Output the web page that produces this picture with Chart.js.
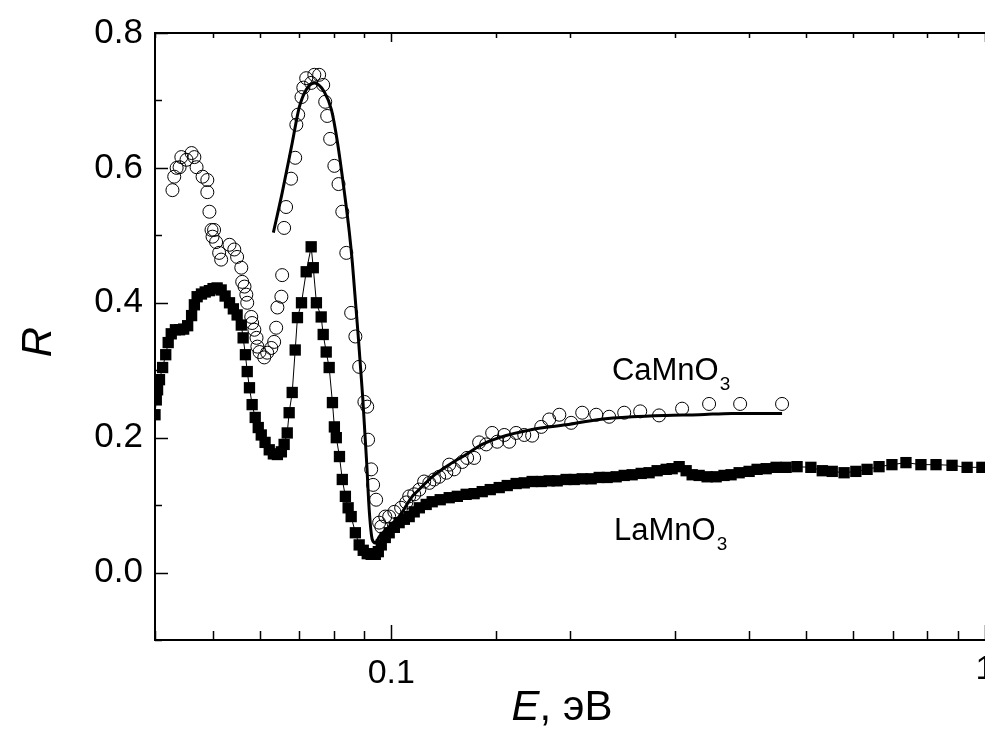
<!DOCTYPE html>
<html>
<head>
<meta charset="utf-8">
<script src="https://cdn.jsdelivr.net/npm/chart.js@4.4.0/dist/chart.umd.min.js"></script>
<style>
    html, body { margin: 0; padding: 0; background: #fff; overflow: hidden; }
</style>
</head>
<body>
<canvas id="myChart" width="985" height="733"></canvas>
<script>
// LaMnO3 reflectance (filled squares)
const laE = [0.0400, 0.0402, 0.0404, 0.0407, 0.0412, 0.0417, 0.0421, 0.0426, 0.0433, 0.0440,
    0.0447, 0.0454, 0.0461, 0.0466, 0.0471, 0.0479, 0.0486, 0.0494, 0.0501, 0.0509,
    0.0517, 0.0525, 0.0534, 0.0542, 0.0550, 0.0559, 0.0563, 0.0568, 0.0572, 0.0577,
    0.0583, 0.0590, 0.0597, 0.0604, 0.0613, 0.0623, 0.0633, 0.0643, 0.0653, 0.0660,
    0.0668, 0.0673, 0.0681, 0.0689, 0.0695, 0.0706, 0.0719, 0.0733, 0.0739, 0.0748,
    0.0762, 0.0768, 0.0777, 0.0786, 0.0796, 0.0802, 0.0808, 0.0818, 0.0827, 0.0837,
    0.0846, 0.0856, 0.0870, 0.0883, 0.0897, 0.0911, 0.0925, 0.0940, 0.0951, 0.0962,
    0.0977, 0.0992, 0.1012, 0.1031, 0.1052, 0.1072, 0.1093, 0.1115, 0.1145, 0.1172,
    0.1209, 0.1252, 0.1292, 0.1337, 0.1379, 0.1423, 0.1468, 0.1520, 0.1568, 0.1623,
    0.1675, 0.1727, 0.1789, 0.1845, 0.1903, 0.1970, 0.2033, 0.2097, 0.2171, 0.2240,
    0.2310, 0.2392, 0.2468, 0.2545, 0.2636, 0.2718, 0.2804, 0.2904, 0.2972, 0.3054,
    0.3138, 0.3212, 0.3300, 0.3404, 0.3525, 0.3635, 0.3735, 0.3854, 0.4006, 0.4132,
    0.4280, 0.4448, 0.4624, 0.4825, 0.509, 0.532, 0.553, 0.579, 0.606, 0.633,
    0.663, 0.697, 0.736, 0.780, 0.827, 0.880, 0.933, 0.988];
const laR = [0.234, 0.256, 0.271, 0.286, 0.304, 0.323, 0.341, 0.354, 0.360, 0.360,
    0.361, 0.366, 0.381, 0.397, 0.409, 0.413, 0.416, 0.418, 0.421, 0.422,
    0.419, 0.410, 0.400, 0.391, 0.382, 0.367, 0.348, 0.323, 0.298, 0.274,
    0.249, 0.230, 0.215, 0.204, 0.193, 0.182, 0.176, 0.175, 0.179, 0.190,
    0.207, 0.237, 0.267, 0.330, 0.378, 0.400, 0.446, 0.483, 0.452, 0.400,
    0.379, 0.353, 0.327, 0.304, 0.252, 0.216, 0.200, 0.172, 0.138, 0.113,
    0.096, 0.083, 0.059, 0.041, 0.033, 0.028, 0.027, 0.027, 0.031, 0.041,
    0.052, 0.059, 0.067, 0.074, 0.079, 0.083, 0.090, 0.096, 0.101, 0.105,
    0.108, 0.111, 0.113, 0.116, 0.117, 0.120, 0.123, 0.126, 0.129, 0.132,
    0.133, 0.135, 0.135, 0.136, 0.136, 0.138, 0.138, 0.139, 0.139, 0.141,
    0.141, 0.142, 0.144, 0.145, 0.147, 0.148, 0.151, 0.153, 0.154, 0.157,
    0.151, 0.145, 0.144, 0.142, 0.142, 0.144, 0.145, 0.148, 0.150, 0.153,
    0.154, 0.156, 0.156, 0.157, 0.156, 0.151, 0.150, 0.148, 0.150, 0.153,
    0.157, 0.160, 0.163, 0.160, 0.160, 0.159, 0.156, 0.156];

// CaMnO3 reflectance (open circles)
const caE = [0.0428, 0.0431, 0.0435, 0.0440, 0.0443, 0.0452, 0.0461, 0.0466, 0.0470, 0.0481,
    0.0490, 0.0490, 0.0494, 0.0498, 0.0503, 0.0500, 0.0507, 0.0513, 0.0517, 0.0534,
    0.0544, 0.0550, 0.0559, 0.0561, 0.0566, 0.0570, 0.0572, 0.0581, 0.0583, 0.0588,
    0.0593, 0.0595, 0.0600, 0.0611, 0.0618, 0.0628, 0.0635, 0.0640, 0.0643, 0.0653,
    0.0655, 0.0660, 0.0665, 0.0678, 0.0689, 0.0692, 0.0697, 0.0706, 0.0711, 0.0719,
    0.0733, 0.0742, 0.0756, 0.0768, 0.0774, 0.0780, 0.0789, 0.0802, 0.0815, 0.0827,
    0.0840, 0.0856, 0.0870, 0.0883, 0.0901, 0.0911, 0.0914, 0.0925, 0.0932, 0.0943,
    0.0954, 0.0962, 0.0977, 0.0992, 0.1012, 0.1039, 0.1060, 0.1072, 0.1093, 0.1115,
    0.1136, 0.1159, 0.1181, 0.1204, 0.1238, 0.1252, 0.1276, 0.1317, 0.1342, 0.1379,
    0.1406, 0.1445, 0.1479, 0.1508, 0.1550, 0.1580, 0.1623, 0.1675, 0.1727, 0.1789,
    0.1845, 0.1919, 0.2009, 0.2097, 0.2214, 0.2328, 0.2468, 0.2626, 0.2825, 0.3089,
    0.3430, 0.3869, 0.4552];
const caR = [0.567, 0.587, 0.600, 0.601, 0.616, 0.612, 0.622, 0.616, 0.601, 0.587,
    0.582, 0.564, 0.535, 0.508, 0.508, 0.498, 0.490, 0.474, 0.464, 0.486,
    0.479, 0.468, 0.452, 0.431, 0.424, 0.412, 0.400, 0.379, 0.370, 0.360,
    0.348, 0.335, 0.327, 0.319, 0.326, 0.333, 0.342, 0.363, 0.393, 0.409,
    0.441, 0.511, 0.542, 0.584, 0.615, 0.664, 0.679, 0.705, 0.719, 0.733,
    0.726, 0.738, 0.738, 0.723, 0.698, 0.677, 0.643, 0.603, 0.576, 0.535,
    0.474, 0.385, 0.350, 0.305, 0.253, 0.246, 0.197, 0.153, 0.130, 0.108,
    0.074, 0.068, 0.083, 0.083, 0.090, 0.096, 0.104, 0.113, 0.116, 0.123,
    0.135, 0.133, 0.138, 0.142, 0.148, 0.160, 0.153, 0.164, 0.170, 0.170,
    0.193, 0.190, 0.207, 0.194, 0.204, 0.194, 0.207, 0.204, 0.203, 0.216,
    0.227, 0.234, 0.222, 0.237, 0.234, 0.231, 0.237, 0.239, 0.233, 0.243,
    0.250, 0.250, 0.250];

// CaMnO3 model fit (solid line)
const fitE = [0.0633, 0.0655, 0.0681, 0.0700, 0.0719, 0.0742, 0.0771, 0.0793, 0.0812, 0.0834,
    0.0850, 0.0860, 0.0878, 0.0895, 0.0909, 0.0918, 0.0929, 0.0940, 0.0954, 0.0992,
    0.1031, 0.1085, 0.1102, 0.1172, 0.1252, 0.1337, 0.1423, 0.1520, 0.1727, 0.1970,
    0.2240, 0.2545, 0.2904, 0.3300, 0.3750, 0.4552];
const fitR = [0.504, 0.563, 0.637, 0.690, 0.716, 0.726, 0.713, 0.686, 0.637, 0.563,
    0.504, 0.459, 0.360, 0.261, 0.163, 0.093, 0.049, 0.044, 0.053, 0.068,
    0.083, 0.113, 0.119, 0.142, 0.160, 0.175, 0.190, 0.200, 0.212, 0.219,
    0.227, 0.231, 0.233, 0.234, 0.236, 0.236];

// Axis settings
const xMin = 0.04, xMax = 1;
const yMin = -0.1, yMax = 0.8, yStep = 0.1;
const xLabelValues = [0.1, 1];

// Text labels placed in data coordinates
const seriesLabels = [
    { name: 'CaMnO', sub: '3', e: 0.2353, r: 0.286 },
    { name: 'LaMnO', sub: '3', e: 0.2372, r: 0.049 }
];

const FONT = '"Liberation Sans", Arial, Helvetica, sans-serif';
const TICK_FONT = 34;
const TICK_PAD = 13;

function toPoints(xs, ys) {
    return xs.map((x, i) => ({ x: x, y: ys[i] }));
}

function isDecade(v) {
    return Math.abs(Math.log10(v) - Math.round(Math.log10(v))) < 1e-6;
}

// Inward ticks, top frame line, edge label, axis titles and series labels
const framePlugin = {
    id: 'frame',
    afterDraw(chart) {
        const c = chart.ctx;
        const area = chart.chartArea;
        const xs = chart.scales.x;
        const ys = chart.scales.y;
        c.save();
        c.strokeStyle = '#000';
        c.fillStyle = '#000';

        // top frame line
        c.lineWidth = 2;
        c.beginPath();
        c.moveTo(area.left - 1, area.top);
        c.lineTo(area.right, area.top);
        c.stroke();

        // x ticks (bottom and top)
        c.lineWidth = 1.5;
        xs.ticks.forEach(t => {
            const px = Math.round(xs.getPixelForValue(t.value)) + 0.5;
            const major = isDecade(t.value);
            const lb = major ? 15 : 9;
            const lt = major ? 9 : 5;
            c.beginPath();
            c.moveTo(px, area.bottom);
            c.lineTo(px, area.bottom - lb);
            c.moveTo(px, area.top);
            c.lineTo(px, area.top + lt);
            c.stroke();
        });

        // y ticks (left)
        ys.ticks.forEach(t => {
            const k = Math.round(t.value * 10);
            const py = Math.round(ys.getPixelForValue(t.value)) + 0.5;
            const len = (k % 2 === 0) ? 13 : 7;
            c.beginPath();
            c.moveTo(area.left, py);
            c.lineTo(area.left + len, py);
            c.stroke();
        });

        // the label sitting on the right edge (cut by the page, as in the original)
        c.font = TICK_FONT + 'px ' + FONT;
        c.textAlign = 'center';
        c.textBaseline = 'top';
        xLabelValues.filter(v => Math.abs(v - xMax) < 1e-9).forEach(v => {
            c.fillText(String(v), xs.getPixelForValue(v), area.bottom + TICK_PAD);
        });

        // x axis title: E, эВ
        c.textBaseline = 'alphabetic';
        c.textAlign = 'left';
        const italic = 'italic 42px ' + FONT;
        const normal = '42px ' + FONT;
        c.font = italic;
        const wE = c.measureText('E').width;
        c.font = normal;
        const wRest = c.measureText(', эВ').width;
        const cx = 562;
        const x0 = cx - (wE + wRest) / 2;
        c.font = italic;
        c.fillText('E', x0, 720);
        c.font = normal;
        c.fillText(', эВ', x0 + wE, 720);

        // y axis title: R (rotated)
        c.save();
        c.translate(51, 342);
        c.rotate(-Math.PI / 2);
        c.textAlign = 'center';
        c.font = italic;
        c.fillText('R', 0, 0);
        c.restore();

        // series labels with subscript
        seriesLabels.forEach(l => {
            const px = xs.getPixelForValue(l.e);
            const py = ys.getPixelForValue(l.r);
            c.textAlign = 'left';
            c.font = '31px ' + FONT;
            c.fillText(l.name, px, py);
            const w = c.measureText(l.name).width;
            c.font = '19px ' + FONT;
            c.fillText(l.sub, px + w + 1, py + 10);
        });
        c.restore();
    }
};

const ctx = document.getElementById('myChart').getContext('2d');
new Chart(ctx, {
    type: 'line',
    data: {
        datasets: [
            {
                label: 'fit',
                data: toPoints(fitE, fitR),
                borderColor: '#000',
                borderWidth: 3,
                pointRadius: 0,
                cubicInterpolationMode: 'monotone',
                fill: false,
                clip: 0,
                order: 0
            },
            {
                label: 'CaMnO3',
                data: toPoints(caE, caR),
                showLine: false,
                pointStyle: 'circle',
                pointRadius: 6.5,
                pointBorderWidth: 1,
                pointBorderColor: '#000',
                pointBackgroundColor: 'rgba(0,0,0,0)',
                clip: 0,
                order: 1
            },
            {
                label: 'LaMnO3',
                data: toPoints(laE, laR),
                borderColor: '#000',
                borderWidth: 1,
                pointStyle: 'rect',
                pointRadius: 8,
                pointBorderWidth: 0,
                pointBackgroundColor: '#000',
                fill: false,
                clip: 0,
                order: 2
            }
        ]
    },
    options: {
        responsive: false,
        animation: false,
        layout: {
            autoPadding: false,
            padding: { top: 33, right: 0, left: 0, bottom: 0 }
        },
        plugins: {
            legend: { display: false },
            tooltip: { enabled: false }
        },
        scales: {
            x: {
                type: 'logarithmic',
                min: xMin,
                max: xMax,
                grid: { display: false, drawTicks: false },
                border: { display: true, color: '#000', width: 2 },
                ticks: {
                    autoSkip: false,
                    maxRotation: 0,
                    padding: TICK_PAD,
                    color: '#000',
                    font: { family: FONT, size: TICK_FONT },
                    callback: function (value) {
                        // the edge label is drawn by the frame plugin so it adds no padding
                        if (Math.abs(value - xMax) < 1e-9) return '';
                        const hit = xLabelValues.find(v => Math.abs(v - value) < 1e-9);
                        return hit !== undefined ? String(hit) : '';
                    }
                },
                afterFit: function (scale) {
                    scale.height = 93;
                    scale.paddingLeft = 0;
                    scale.paddingRight = 0;
                }
            },
            y: {
                min: yMin,
                max: yMax,
                grid: { display: false, drawTicks: false },
                border: { display: true, color: '#000', width: 2 },
                ticks: {
                    stepSize: yStep,
                    autoSkip: false,
                    padding: 12,
                    color: '#000',
                    font: { family: FONT, size: 35 },
                    callback: function (value) {
                        const k = Math.round(value * 10);
                        return (k % 2 === 0 && k >= 0) ? (k / 10).toFixed(1) : '';
                    }
                },
                afterFit: function (scale) {
                    scale.width = 155;
                    scale.paddingTop = 0;
                    scale.paddingBottom = 0;
                }
            }
        }
    },
    plugins: [framePlugin]
});
</script>
</body>
</html>
